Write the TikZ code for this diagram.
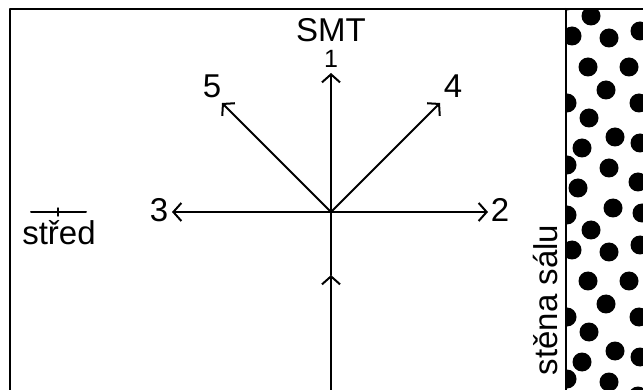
\documentclass[tikz,border=0pt]{standalone}
\usepackage{fontspec}
\setmainfont{Liberation Sans}
\usetikzlibrary{arrows.meta}
\begin{document}
\begin{tikzpicture}[x=1pt, y=-1pt, line cap=round, line join=round,
    line width=2pt, >={Straight Barb[length=8pt,width=18pt]},
    lbl/.style={font=\fontsize{33}{38}\selectfont, inner sep=0pt, anchor=base}]
  \useasboundingbox (0,0) rectangle (643,390);
  % dots of the wall
  \begin{scope}
    \clip (566,9) rectangle (643,390);
    \foreach \s in {-214,0,214}
      \foreach \x/\y in {588/67,629/67,606/90,567/103,639/103,589/118,615/137,582/148,640/143,567/165,
                         609/168,638/182,578/188,613/208,567/215,642/213,591/230,572/250,609/252,640/245}
        \fill (\x,\y+\s) circle[radius=9.5];
  \end{scope}
  \draw[line width=2.4pt] (10,392) -- (10,9) -- (645,9);
  \draw (566,9) -- (566,392);
  % labels
  \node[lbl] (smt) at (331,42) {SMT};
  \node[lbl, font=\fontsize{25}{30}\selectfont] (n1) at (331,68) {1};
  \node[lbl] (n2) at (500,222) {2};
  \node[lbl] (n3) at (159,222) {3};
  \node[lbl] (n4) at (453,98) {4};
  \node[lbl] (n5) at (212,98) {5};
  \node[lbl] (stred) at (59,245) {střed};
  \node[lbl, rotate=90] (wall) at (557,300) {stěna sálu};
  % arrows
  \coordinate (c) at (331,212);
  \coordinate (t1) at (331,73);
  \coordinate (t2) at (488,212);
  \coordinate (t3) at (172,212);
  \coordinate (t4) at (440,103);
  \coordinate (t5) at (222,103);
  \foreach \t in {t1,t2,t3,t4,t5} \draw[->] (c) -- (\t);
  \coordinate (bot) at (331,392);
  \coordinate (mid) at (331,275);
  \draw[->] (bot) -- (mid);
  \draw (mid) -- (c);
  % stred mark
  \coordinate (sl) at (31,212);
  \coordinate (sr) at (86,212);
  \draw (sl) -- (sr);
  \draw[line width=1.4pt] (58,208) -- (58,216);
\end{tikzpicture}
\end{document}
